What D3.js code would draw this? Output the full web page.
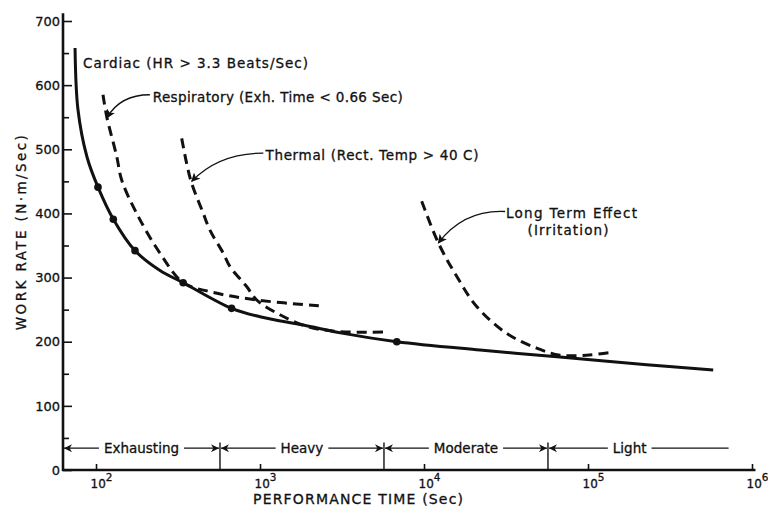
<!DOCTYPE html>
<html>
<head>
<meta charset="utf-8">
<script src="https://cdn.jsdelivr.net/npm/d3@7"></script>
<style>
  body { margin: 0; background: #fff; }
  svg { display: block; }
  text { font-family: "DejaVu Sans", sans-serif; fill: #111; stroke: #111; stroke-width: 0.3; }
</style>
</head>
<body>
<svg id="chart"></svg>
<script>
const W = 768, H = 506

// data (time in sec, work rate in N·m/sec)
const cardiacTime = [74.5, 77.6, 88.1, 102.8, 127.5, 172.9, 245.6, 340, 671, 1000, 1837, 3221, 6824, 21930, 67420, 228000, 580000]
const cardiacWork = [658, 562, 488, 441, 391, 342, 311, 292, 252, 239, 226, 213, 200, 187, 176, 164, 156]
const dotTime = [102.8, 127.5, 172.9, 340, 671, 6824]
const dotWork = [441, 391, 342, 292, 252, 200]

const respTime = [110.3, 116.2, 133.7, 143.4, 177, 245.5, 340.4, 495, 955, 2323]
const respWork = [585, 551, 489, 452, 400, 338, 292, 278, 265, 256]

const thermTime = [333, 357, 383, 451, 495, 597, 656, 829, 955, 1324, 1927, 2939, 5649]
const thermWork = [517, 478, 447, 400, 374, 338, 317, 286, 265, 242, 224, 216, 215]

const longTime = [9680, 12230, 15820, 20950, 31900, 48600, 67400, 98100, 136000]
const longWork = [419, 354, 302, 255, 213, 190, 179, 179, 183]

const bandNames = ["Exhausting", "Heavy", "Moderate", "Light"]
const bandEdges = [62.9, 570, 5700, 57000, 730000]
const bandLevel = 34

const yTicks = [0, 100, 200, 300, 400, 500, 600, 700]
const yMinor = [50, 150, 250, 350, 450, 550, 650]
const xTicks = [1e2, 1e3, 1e4, 1e5, 1e6]

const x = d3.scaleLog().domain([62.9, 1e6]).range([63, 752])
const y = d3.scaleLinear().domain([0, 700]).range([470, 21])

const svg = d3.select("#chart").attr("width", W).attr("height", H)

const defs = svg.append("defs")
defs.append("marker")
    .attr("id", "barb")
    .attr("viewBox", "0 0 10 10")
    .attr("refX", 10).attr("refY", 5)
    .attr("markerWidth", 11).attr("markerHeight", 8)
    .attr("markerUnits", "userSpaceOnUse")
    .attr("orient", "auto-start-reverse")
    .append("path")
    .attr("d", "M0,0 L10,5 L0,10 L3,5 z")
    .attr("fill", "#111")
defs.append("marker")
    .attr("id", "note")
    .attr("viewBox", "0 0 10 10")
    .attr("refX", 9).attr("refY", 5)
    .attr("markerWidth", 11).attr("markerHeight", 9)
    .attr("markerUnits", "userSpaceOnUse")
    .attr("orient", "auto")
    .append("path")
    .attr("d", "M0,0 L10,5 L0,10 L2.5,5 z")
    .attr("fill", "#111")

// axes
const yAxis = d3.axisLeft(y).tickValues(yTicks).tickSizeInner(-9).tickSizeOuter(0).tickPadding(3)
const yAxisMinor = d3.axisLeft(y).tickValues(yMinor).tickSizeInner(-6).tickSizeOuter(0).tickFormat("")
const xAxis = d3.axisBottom(x).tickValues(xTicks).tickSizeInner(-6).tickSizeOuter(0).tickFormat("")

const gy = svg.append("g").attr("transform", `translate(${x.range()[0]},0)`).call(yAxis)
svg.append("g").attr("transform", `translate(${x.range()[0]},0)`).call(yAxisMinor)
const gx = svg.append("g").attr("transform", `translate(0,${y(0)})`).call(xAxis)

svg.selectAll(".domain").remove()
svg.selectAll(".tick line").attr("stroke", "#111").attr("stroke-width", 1.6)
gy.selectAll(".tick text").attr("font-size", 13).attr("font-family", "DejaVu Sans").attr("fill", "#111")

gx.selectAll(".tick").append("text")
    .attr("y", 18).attr("x", -6)
    .attr("font-size", 12)
    .attr("fill", "#111")
    .attr("text-anchor", "start")
    .call(t => t.append("tspan").text("10"))
    .call(t => t.append("tspan").attr("dy", -7).attr("font-size", 10.5).text(d => Math.round(Math.log10(d))))

svg.append("line")
    .attr("x1", x.range()[0]).attr("x2", x.range()[0])
    .attr("y1", y(712)).attr("y2", y(0) + 1)
    .attr("stroke", "#111").attr("stroke-width", 2.6)
svg.append("line")
    .attr("x1", x.range()[0] - 1).attr("x2", x(1.05e6))
    .attr("y1", y(0)).attr("y2", y(0))
    .attr("stroke", "#111").attr("stroke-width", 2.6)

// axis titles
svg.append("text")
    .attr("transform", `translate(26,${y(370)}) rotate(-90)`)
    .attr("text-anchor", "middle")
    .attr("font-size", 13.5)
    .attr("textLength", 195).attr("lengthAdjust", "spacing")
    .text("WORK RATE (N·m/Sec)")
svg.append("text")
    .attr("x", 253).attr("y", 504)
    .attr("font-size", 14)
    .attr("textLength", 210).attr("lengthAdjust", "spacing")
    .text("PERFORMANCE TIME (Sec)")

// curves
const line = d3.line()
    .x(d => x(d[0]))
    .y(d => y(d[1]))
    .curve(d3.curveCatmullRom.alpha(0.5))

const zip = (a, b) => a.map((v, i) => [v, b[i]])

svg.append("path")
    .datum(zip(cardiacTime, cardiacWork))
    .attr("d", line)
    .attr("fill", "none").attr("stroke", "#111").attr("stroke-width", 3)

const dashed = [zip(respTime, respWork), zip(thermTime, thermWork), zip(longTime, longWork)]
svg.selectAll(".dash")
    .data(dashed)
    .enter()
    .append("path")
    .attr("d", line)
    .attr("fill", "none").attr("stroke", "#111")
    .attr("stroke-width", 3).attr("stroke-dasharray", "10,6")

svg.selectAll(".dot")
    .data(zip(dotTime, dotWork))
    .enter()
    .append("circle")
    .attr("cx", d => x(d[0])).attr("cy", d => y(d[1]))
    .attr("r", 3.8).attr("fill", "#111")

// labels and arrows
const notes = [
    {text: "Cardiac (HR > 3.3 Beats/Sec)", at: [83.3, 635], len: 225},
    {text: "Respiratory (Exh. Time < 0.66 Sec)", at: [221.7, 582], len: 250,
        from: [213, 585], ctrl: [140, 585], tip: [116.5, 549]},
    {text: "Thermal  (Rect. Temp > 40 C)", at: [1080, 491], len: 213,
        from: [1048, 494], ctrl: [560, 494], tip: [383, 450]},
    {text: "Long Term Effect", at: [31600, 401], len: 131,
        from: [31200, 403], ctrl: [17500, 406], tip: [12230, 354]},
    {text: "(Irritation)", at: [75500, 374], len: 81, anchor: "middle"}
]

svg.selectAll(".note")
    .data(notes)
    .enter()
    .append("text")
    .attr("x", d => x(d.at[0])).attr("y", d => y(d.at[1]))
    .attr("dy", "0.36em")
    .attr("font-size", 13.5)
    .attr("text-anchor", d => d.anchor || "start")
    .attr("textLength", d => d.len).attr("lengthAdjust", "spacing")
    .text(d => d.text)

svg.selectAll(".arrow")
    .data(notes.filter(d => d.tip))
    .enter()
    .append("path")
    .attr("d", d => `M${x(d.from[0])},${y(d.from[1])} Q${x(d.ctrl[0])},${y(d.ctrl[1])} ${x(d.tip[0])},${y(d.tip[1])}`)
    .attr("fill", "none").attr("stroke", "#111").attr("stroke-width", 1.3)
    .attr("marker-end", "url(#note)")

// intensity bands along the bottom
const bands = bandNames.map((name, i) => ({name, lo: bandEdges[i], hi: bandEdges[i + 1], last: i === bandNames.length - 1}))

svg.selectAll(".edge")
    .data(bandEdges.slice(1, -1))
    .enter()
    .append("line")
    .attr("x1", d => x(d)).attr("x2", d => x(d))
    .attr("y1", y(0)).attr("y2", y(43))
    .attr("stroke", "#111").attr("stroke-width", 1.4)

const band = svg.selectAll(".band")
    .data(bands)
    .enter()
    .append("g")

band.each(function(d) {
    const g = d3.select(this)
    const x0 = x(d.lo), x1 = x(d.hi), yy = y(bandLevel)
    const label = g.append("text")
        .attr("y", yy).attr("dy", "0.36em")
        .attr("font-size", 13.5)
        .attr("text-anchor", "middle")
        .text(d.name)
    const tw = label.node().getComputedTextLength()
    const cx = d.last ? x0 + (x1 - x0) * 0.45 : (x0 + x1) / 2
    label.attr("x", cx)
    g.append("line")
        .attr("x1", x0 + 1).attr("x2", cx - tw / 2 - 5)
        .attr("y1", yy).attr("y2", yy)
        .attr("stroke", "#111").attr("stroke-width", 1.3)
        .attr("marker-start", "url(#barb)")
    const right = g.append("line")
        .attr("x1", cx + tw / 2 + 5).attr("x2", x1 - 1)
        .attr("y1", yy).attr("y2", yy)
        .attr("stroke", "#111").attr("stroke-width", 1.3)
    if (!d.last) right.attr("marker-end", "url(#barb)")
})
</script>
</body>
</html>
